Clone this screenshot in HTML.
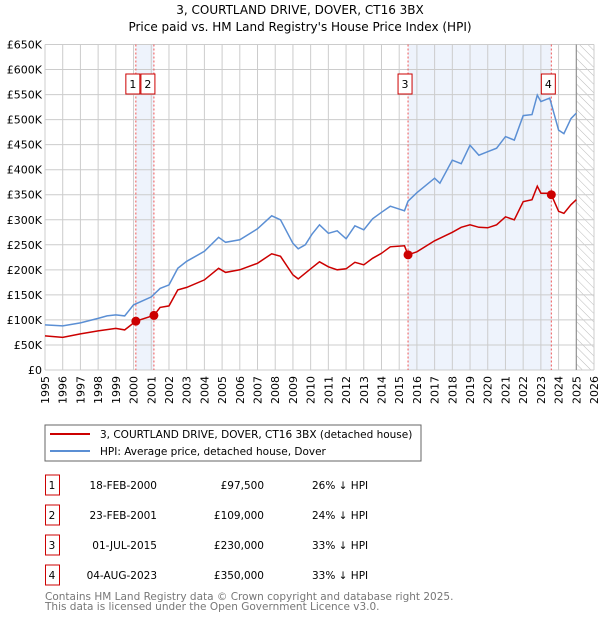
<!DOCTYPE html>
<html><head><meta charset="utf-8"><style>
body{margin:0;background:#fff;font-family:"Liberation Sans","DejaVu Sans",sans-serif;}
svg{display:block}
text{font-family:"DejaVu Sans","Liberation Sans",sans-serif;}
</style></head><body>
<svg id="c" width="600" height="620">
<defs><pattern id="hatch" width="6" height="6" patternUnits="userSpaceOnUse" patternTransform="rotate(-45)"><line x1="0" y1="0" x2="0" y2="6" stroke="#bbb" stroke-width="1"/></pattern></defs>
<text x="300" y="14" text-anchor="middle" font-size="12" fill="#000">3, COURTLAND DRIVE, DOVER, CT16 3BX</text>
<text x="300" y="31" text-anchor="middle" font-size="12" fill="#000">Price paid vs. HM Land Registry's House Price Index (HPI)</text>
<g id="plot"></g>
<rect x="45" y="425" width="376" height="36" fill="#fff" stroke="#666"/>
<line x1="50" y1="434" x2="90" y2="434" stroke="#cc0000" stroke-width="2"/>
<text x="100" y="438" font-size="10.5">3, COURTLAND DRIVE, DOVER, CT16 3BX (detached house)</text>
<line x1="50" y1="451" x2="90" y2="451" stroke="#5b8fd4" stroke-width="2"/>
<text x="100" y="455" font-size="10.5">HPI: Average price, detached house, Dover</text>
<g id="table" font-size="10.5"></g>
<text x="45" y="600" font-size="10.5" fill="#777">Contains HM Land Registry data © Crown copyright and database right 2025.</text>
<text x="45" y="610" font-size="10.5" fill="#777">This data is licensed under the Open Government Licence v3.0.</text>
</svg>
<script>
const hpiYears=[1995,1996,1997,1998,1998.5,1999,1999.5,2000,2001,2001.5,2002,2002.5,2003,2004,2004.8,2005.2,2006,2007,2007.8,2008.3,2009,2009.3,2009.7,2010.07,2010.5,2011,2011.5,2012,2012.5,2013,2013.5,2014,2014.5,2015.3,2015.5,2016,2017,2017.3,2018,2018.5,2019,2019.5,2020,2020.5,2021,2021.5,2022,2022.5,2022.8,2023,2023.5,2024,2024.3,2024.7,2025];
const hpiValues=[90,88,94,103,108,110,108,130,146,163,170,203,217,237,265,255,260,282,308,300,253,242,250,271,290,273,278,262,288,280,302,315,327,318,337,354,383,373,419,412,449,429,436,443,466,459,508,510,549,536,543,479,472,502,513];
const propYears=[1995,1996,1997,1998,1999,1999.5,2000.13,2001.15,2001.5,2002,2002.5,2003,2004,2004.8,2005.2,2006,2007,2007.8,2008.3,2009,2009.3,2010.07,2010.5,2011,2011.5,2012,2012.5,2013,2013.5,2014,2014.5,2015.3,2015.5,2016,2017,2018,2018.5,2019,2019.5,2020,2020.5,2021,2021.5,2022,2022.5,2022.8,2023,2023.5,2023.59,2024,2024.3,2024.7,2025];
const propValues=[68,65,72,78,83,80,97.5,109,125,128,160,165,180,203,195,200,213,232,227,190,182,204,216,206,200,202,215,210,223,233,246,248,230,236,258,275,285,290,285,284,290,306,300,336,340,367,353,353,350,317,313,330,340];
const saleYears=[2000.13,2001.15,2015.5,2023.59];
const saleValues=[97.5,109,230,350];
const saleLabels=["1","2","3","4"];
const saleDates=["18-FEB-2000","23-FEB-2001","01-JUL-2015","04-AUG-2023"];
const salePrices=["£97,500","£109,000","£230,000","£350,000"];
const saleDiffs=["26% ↓ HPI","24% ↓ HPI","33% ↓ HPI","33% ↓ HPI"];
const yTicks=[0,50,100,150,200,250,300,350,400,450,500,550,600,650];
const xTicks=[];for(let y=1995;y<=2026;y++)xTicks.push(y);

const X0=45,X1=594,Y0=370,Y1=44.5;
const xs=v=>X0+(v-1995)/(2026-1995)*(X1-X0);
const ys=v=>Y0-(v/650)*(Y0-Y1);
const NS="http://www.w3.org/2000/svg";
const plot=document.getElementById('plot');
function mk(tag,attrs,parent){const e=document.createElementNS(NS,tag);for(const k in attrs)e.setAttribute(k,attrs[k]);(parent||plot).appendChild(e);return e;}

// shaded bands
let b=mk('rect',{x:xs(saleYears[0]),y:Y1,width:xs(saleYears[1])-xs(saleYears[0]),height:Y0-Y1,fill:'#eef3fc'});


b=mk('rect',{x:xs(saleYears[2]),y:Y1,width:xs(saleYears[3])-xs(saleYears[2]),height:Y0-Y1,fill:'#eef3fc'});


b=mk('rect',{x:xs(2025),y:Y1,width:X1-xs(2025),height:Y0-Y1,fill:'url(#hatch)'});



// grid
xTicks.forEach(t=>{
 const l=mk('line',{x1:xs(t),x2:xs(t),y1:Y1,y2:Y0,stroke:'#cccccc','stroke-width':1});
 
 
 const tx=mk('text',{x:0,y:0,'font-size':11,'text-anchor':'end',transform:`translate(${xs(t)+4},${Y0+6}) rotate(-90)`});
 tx.textContent=t;
 
 
});
yTicks.forEach(t=>{
 const l=mk('line',{x1:X0,x2:X1,y1:ys(t),y2:ys(t),stroke:'#cccccc','stroke-width':1});
 
 
 const tx=mk('text',{x:X0-3,y:ys(t)+4,'font-size':11,'text-anchor':'end'});
 tx.textContent=t===0?'£0':'£'+t+'K';
 
 
});
let v=mk('line',{x1:xs(2025),x2:xs(2025),y1:Y1,y2:Y0,stroke:'#888','stroke-width':1});



// sale dashed lines
saleYears.forEach((s,i)=>{
 const l=mk('line',{x1:xs(s),x2:xs(s),y1:Y1,y2:Y0,stroke:'#ee5555','stroke-width':1,'stroke-dasharray':'2,2'});
 
 
});

// series
function path(xa,va){return xa.map((x,i)=>(i?'L':'M')+xs(x).toFixed(1)+','+ys(va[i]).toFixed(1)).join('');}
let p=mk('path',{d:path(hpiYears,hpiValues),fill:'none',stroke:'#5b8fd4','stroke-width':1.5});


p=mk('path',{d:path(propYears,propValues),fill:'none',stroke:'#cc0000','stroke-width':1.5});



// sale points and labels
const boxOff=[-3,-3,-3,-3];
saleYears.forEach((s,i)=>{
 const c=mk('circle',{cx:xs(s),cy:ys(saleValues[i]),r:4.5,fill:'#cc0000'});
 
 
 const bx=xs(s)-10+(i===1?-3:0);
 const r=mk('rect',{x:bx,y:74,width:14,height:20,fill:'#fff',stroke:'#cc0000'});
 
 
 const t=mk('text',{x:bx+7,y:88,'font-size':11,'text-anchor':'middle'});
 t.textContent=saleLabels[i];
 
 
});

// table
const tb=document.getElementById('table');
saleLabels.forEach((lab,i)=>{
 const y=483+i*30;
 const r=mk('rect',{x:45.5,y:y-8,width:14,height:20,fill:'#fff',stroke:'#cc0000'},tb);
 
 
 const cells=[[52,lab,'middle'],[157,saleDates[i],'end'],[264,salePrices[i],'end'],[312,saleDiffs[i],'start']];
 cells.forEach((c,j)=>{
  const t=mk('text',{x:c[0],y:y+6,'text-anchor':c[2]},tb);
  t.textContent=c[1];
  
  
 });
});
</script>
</body></html>
